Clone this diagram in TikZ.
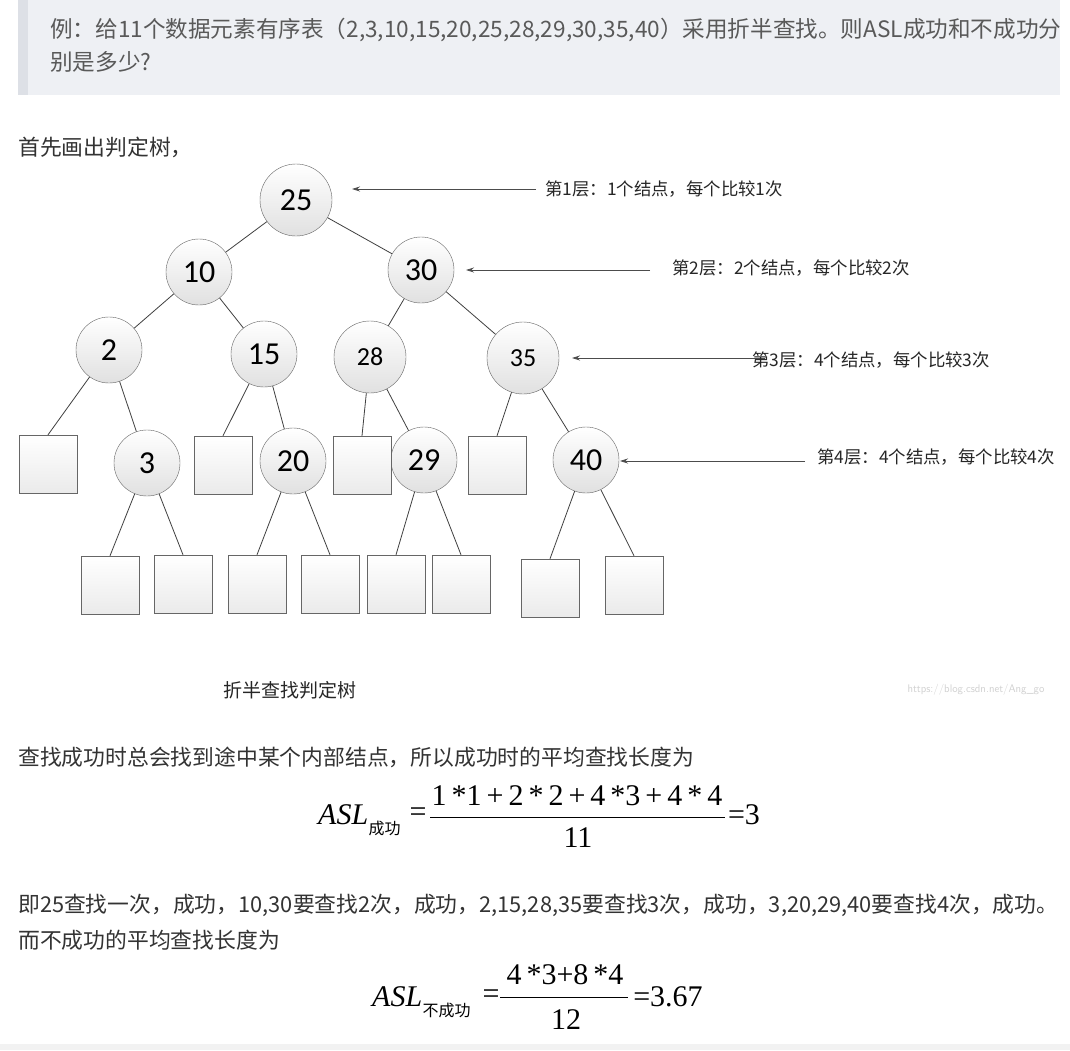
\documentclass[tikz,border=0pt]{standalone}
\usepackage{fontspec}
\setmainfont{Liberation Serif}
\newfontfamily\cjk{Noto Sans CJK SC}
\newfontfamily\numf{Carlito}
\usetikzlibrary{arrows.meta}
\definecolor{hbox}{HTML}{EEF0F4}
\definecolor{hbar}{HTML}{DDE0E6}
\begin{document}
\begin{tikzpicture}[x=1pt,y=-1pt,
  circ/.style={circle,draw=black!60,top color=white,bottom color=black!12,minimum size=#1,inner sep=0pt,font=\numf\fontsize{32}{34}\selectfont},
  sq/.style={rectangle,draw=black!60,top color=white,bottom color=black!8,minimum size=58pt,inner sep=0pt},
  edge/.style={draw=black!75,line width=0.8pt},
  lab/.style={anchor=west,font=\cjk\fontsize{17.4}{19}\selectfont,text=black!85,inner sep=0pt},
  arr/.style={draw=black!70,line width=0.8pt,-{Stealth[length=8pt,width=5pt]}},
  body/.style={anchor=west,font=\cjk\fontsize{21.8}{24}\selectfont,text=black!80,inner sep=0pt},
  fm/.style={inner sep=0pt,font=\fontsize{30}{32}\selectfont},
  fsub/.style={inner sep=0pt,font=\cjk\fontsize{16}{18}\selectfont}]
\useasboundingbox (0,0) rectangle (1070,1050);
\fill[white] (0,0) rectangle (1070,1050);
% header box
\fill[hbox] (18,0) rectangle (1060,95);
\fill[hbar] (18,0) rectangle (28,95);
\node[body,text=black!65,font=\cjk\fontsize{22.6}{24}\selectfont] (h1) at (50,30) {例：给11个数据元素有序表（2,3,10,15,20,25,28,29,30,35,40）采用折半查找。则ASL成功和不成功分};
\node[body,text=black!65,font=\cjk\fontsize{22.6}{24}\selectfont] (h2) at (50,62) {别是多少?};
\node[body] (t1) at (18,147) {首先画出判定树，};
% tree nodes
\node[circ=72pt] (n25) at (296,200) {25};
\node[circ=66pt] (n10) at (199,272) {10};
\node[circ=66pt] (n30) at (421,270) {30};
\node[circ=66pt] (n2) at (109,350) {2};
\node[circ=66pt] (n15) at (264,354) {15};
\node[circ=72pt,font=\numf\fontsize{26}{28}\selectfont] (n28) at (370,357) {28};
\node[circ=72pt,font=\numf\fontsize{26}{28}\selectfont] (n35) at (523,358) {35};
\node[circ=66pt] (n3) at (147,463) {3};
\node[circ=66pt] (n20) at (293,461) {20};
\node[circ=66pt] (n29) at (424,460) {29};
\node[circ=66pt] (n40) at (586,460) {40};
\node[sq] (s1) at (48,464) {};
\node[sq] (s2) at (223,465) {};
\node[sq] (s3) at (362,465) {};
\node[sq] (s4) at (497,465) {};
\node[sq] (b1) at (110,585) {};
\node[sq] (b2) at (183,584) {};
\node[sq] (b3) at (257,584) {};
\node[sq] (b4) at (330,584) {};
\node[sq] (b5) at (396,584) {};
\node[sq] (b6) at (461,584) {};
\node[sq] (b7) at (550,588) {};
\node[sq] (b8) at (634,585) {};
\draw[edge] (n25) -- (n10); \draw[edge] (n25) -- (n30);
\draw[edge] (n10) -- (n2); \draw[edge] (n10) -- (n15);
\draw[edge] (n30) -- (n28); \draw[edge] (n30) -- (n35);
\draw[edge] (n2) -- (s1.north); \draw[edge] (n2) -- (n3);
\draw[edge] (n15) -- (s2.north); \draw[edge] (n15) -- (n20);
\draw[edge] (n28) -- (s3.north); \draw[edge] (n28) -- (n29);
\draw[edge] (n35) -- (s4.north); \draw[edge] (n35) -- (n40);
\draw[edge] (n3) -- (b1.north); \draw[edge] (n3) -- (b2.north);
\draw[edge] (n20) -- (b3.north); \draw[edge] (n20) -- (b4.north);
\draw[edge] (n29) -- (b5.north); \draw[edge] (n29) -- (b6.north);
\draw[edge] (n40) -- (b7.north); \draw[edge] (n40) -- (b8.north);
% level labels
\coordinate (a1) at (536,189); \coordinate (e1) at (352,189);
\coordinate (a2) at (650,270); \coordinate (e2) at (466,270);
\coordinate (a3) at (765,358); \coordinate (e3) at (572,358);
\coordinate (a4) at (805,461); \coordinate (e4) at (620,461);
\draw[arr] (a1) -- (e1); \draw[arr] (a2) -- (e2);
\draw[arr] (a3) -- (e3); \draw[arr] (a4) -- (e4);
\node[lab] (l1) at (545,189) {第1层：1个结点，每个比较1次};
\node[lab] (l2) at (672,268) {第2层：2个结点，每个比较2次};
\node[lab] (l3) at (752,360) {第3层：4个结点，每个比较3次};
\node[lab] (l4) at (817,457) {第4层：4个结点，每个比较4次};
\node[font=\cjk\fontsize{19}{21}\selectfont,text=black!85] (cap) at (290,690) {折半查找判定树};
\node[font=\sffamily\fontsize{11}{12}\selectfont,text=black!18] (wm) at (976,690) {https://blog.csdn.net/Ang\_go};
\node[body] (t2) at (18,757) {查找成功时总会找到途中某个内部结点，所以成功时的平均查找长度为};
% formula 1
\node[fm,anchor=west] (f1a) at (318,815) {\textit{ASL}};
\node[fsub,anchor=west] (f1b) at (f1a.east|-0,828) {成功};
\node[fm] (f1c) at (418,815) {=};
\node[fm] (f1n) at (577,796) {1\,*1\,+\,2\,*\,2\,+\,4\,*3\,+\,4\,*\,4};
\draw[line width=1pt] (430,817) -- (725,817);
\node[fm] (f1d) at (578,838) {11};
\node[fm] (f1r) at (744,815) {=3};
\node[body] (t3) at (18,905) {即25查找一次，成功，10,30要查找2次，成功，2,15,28,35要查找3次，成功，3,20,29,40要查找4次，成功。};
\node[body] (t4) at (18,940) {而不成功的平均查找长度为};
% formula 2
\node[fm,anchor=west] (f2a) at (372,997) {\textit{ASL}};
\node[fsub,anchor=west] (f2b) at (f2a.east|-0,1010) {不成功};
\node[fm] (f2c) at (491,997) {=};
\node[fm] (f2n) at (565,975) {4\,*3+8\,*4};
\draw[line width=1pt] (500,997) -- (628,997);
\node[fm] (f2d) at (566,1020) {12};
\node[fm] (f2r) at (668,997) {=3.67};
\fill[black!5] (0,1044) rectangle (1070,1050);
\end{tikzpicture}
\end{document}
